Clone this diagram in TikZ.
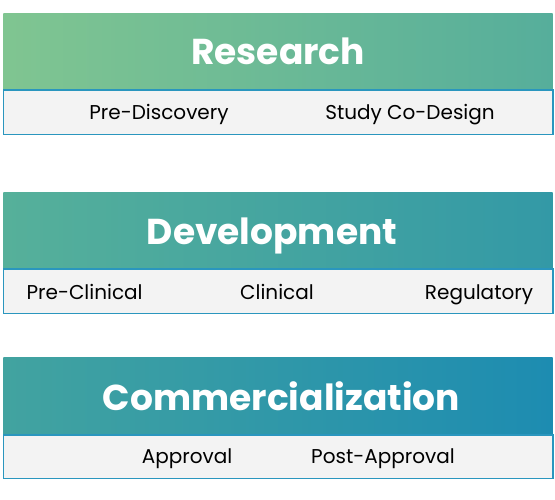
\documentclass[tikz,border=0pt]{standalone}
\usepackage{fontspec}
\setmainfont{Poppins}
\usetikzlibrary{positioning}
\definecolor{stripfill}{HTML}{F3F3F3}
\definecolor{stripline}{HTML}{2A96BE}
\definecolor{gA}{HTML}{80C591}
\definecolor{gB}{HTML}{56AE9B}
\definecolor{gC}{HTML}{56B09A}
\definecolor{gD}{HTML}{3399A6}
\definecolor{gE}{HTML}{42A3A0}
\definecolor{gF}{HTML}{1D8CB1}
\begin{document}
\begin{tikzpicture}[x=1pt,y=-1pt,
  strip/.style={fill=stripfill,draw=stripline,line width=1.6pt},
  title/.style={text=white,font=\fontsize{36}{40}\selectfont\bfseries,inner sep=0pt,anchor=base},
  item/.style={text=black,font=\fontsize{20}{22}\selectfont,inner sep=0pt,anchor=base}]
\useasboundingbox (0,0) rectangle (555,500);
% Research
\shade[left color=gA,right color=gB] (3.3,13.3) rectangle (552.7,90);
\draw[strip] (3.3,90) rectangle (552.7,134.5);
\node[title] (research) at (278,65) {Research};
\node[item] (prediscovery) at (159,120) {Pre-Discovery};
\node[item] (codesign) at (410,120) {Study Co-Design};
% Development
\shade[left color=gC,right color=gD] (3.3,192.5) rectangle (552.7,269.3);
\draw[strip] (3.3,269.3) rectangle (552.7,313.3);
\node[title] (development) at (272,245) {Development};
\node[item] (preclinical) at (84.6,299) {Pre-Clinical};
\node[item] (clinical) at (277,299) {Clinical};
\node[item] (regulatory) at (479,299) {Regulatory};
% Commercialization
\shade[left color=gE,right color=gF] (3.3,357.3) rectangle (552.7,435);
\draw[strip] (3.3,435) rectangle (552.7,478.3);
\node[title] (commercialization) at (281.5,410) {Commercialization};
\node[item] (approval) at (187,463) {Approval};
\node[item] (postapproval) at (383,463) {Post-Approval};
\end{tikzpicture}
\end{document}
